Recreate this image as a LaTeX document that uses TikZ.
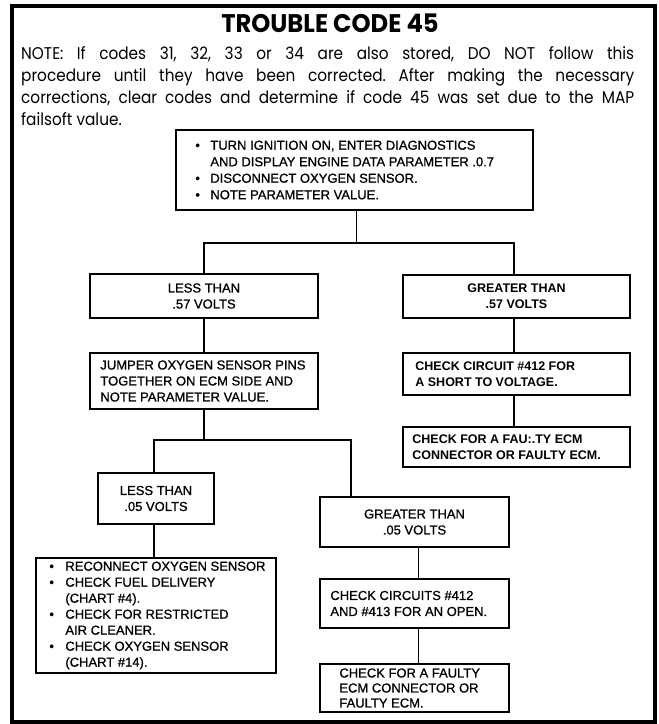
\documentclass[tikz,border=0pt]{standalone}
\usepackage{fontspec}
\setmainfont{Liberation Sans}
\newfontfamily\notefont[FakeStretch=0.9]{Poppins}
\newfontfamily\titlefont[FakeStretch=0.95]{Poppins}
\newfontfamily\boxfont[FakeBold=0.8]{Liberation Sans}
\begin{document}
\frenchspacing
\begin{tikzpicture}[x=1pt,y=-1pt,
  outer/.style={draw, line width=4pt},
  stepbox/.style={draw, line width=1.6pt, inner sep=0pt, fill=white},
  boxtext/.style={inner sep=0pt, font=\boxfont\fontsize{13}{16}\selectfont},
  boldtext/.style={inner sep=0pt, font=\bfseries\fontsize{12.5}{16}\selectfont},
  link/.style={line width=1.5pt}
]
\useasboundingbox (0,0) rectangle (659,724);
\fill[white] (0,0) rectangle (659,724);

% page frame, title and note
\draw[outer] (12,5.5) rectangle (654.5,722);
\node[font=\titlefont\bfseries\fontsize{25.5}{30}\selectfont] (title) at (330,23) {TROUBLE CODE 45};
\node[anchor=north west, text width=613pt, align=justify, inner sep=0pt,
      font=\notefont\fontsize{17}{22}\selectfont] (note) at (21,46.5)
  {NOTE: If codes 31, 32, 33 or 34 are also stored, DO NOT follow this\linebreak
   procedure until they have been corrected. After making the necessary\linebreak
   corrections, clear codes and determine if code 45 was set due to the MAP\linebreak
   failsoft value.};

% boxes
\node[stepbox, minimum width=357pt, minimum height=80pt] (b1) at (354.5,170) {};
\node[stepbox, minimum width=228pt, minimum height=44pt] (lt57) at (204,296) {};
\node[stepbox, minimum width=227pt, minimum height=43pt] (gt57) at (516.5,296.5) {};
\node[stepbox, minimum width=228pt, minimum height=56pt] (jump) at (204,381) {};
\node[stepbox, minimum width=227pt, minimum height=42pt] (c412) at (516.5,374) {};
\node[stepbox, minimum width=227pt, minimum height=40pt] (ecmr) at (516.5,447) {};
\node[stepbox, minimum width=116pt, minimum height=51pt] (lt05) at (156,498.5) {};
\node[stepbox, minimum width=189pt, minimum height=50pt] (gt05) at (414.5,522) {};
\node[stepbox, minimum width=240pt, minimum height=115pt] (recon) at (156,615.5) {};
\node[stepbox, minimum width=189pt, minimum height=49pt] (c413) at (414.5,603.5) {};
\node[stepbox, minimum width=189pt, minimum height=48pt] (ecmb) at (414.5,688) {};

% box texts
\node[boxtext, anchor=west, align=left, font=\boxfont\fontsize{13}{16.5}\selectfont] (t1) at ([xshift=20pt]b1.west)
  {\makebox[15pt][l]{\textbullet}TURN IGNITION ON, ENTER DIAGNOSTICS\\
   \hspace*{15pt}AND DISPLAY ENGINE DATA PARAMETER .0.7\\
   \makebox[15pt][l]{\textbullet}DISCONNECT OXYGEN SENSOR.\\
   \makebox[15pt][l]{\textbullet}NOTE PARAMETER VALUE.};
\node[boxtext, align=center] (t2) at (lt57) {LESS THAN\\.57 VOLTS};
\node[boldtext, align=center] (t3) at (gt57) {GREATER THAN\\.57 VOLTS};
\node[boxtext, anchor=west, align=left] (t4) at ([xshift=11pt]jump.west)
  {JUMPER OXYGEN SENSOR PINS\\TOGETHER ON ECM SIDE AND\\NOTE PARAMETER VALUE.};
\node[boldtext, anchor=west, align=left] (t5) at ([xshift=13pt]c412.west)
  {CHECK CIRCUIT \#412 FOR\\A SHORT TO VOLTAGE.};
\node[boldtext, anchor=west, align=left] (t6) at ([xshift=10pt]ecmr.west)
  {CHECK FOR A FAU:.TY ECM\\CONNECTOR OR FAULTY ECM.};
\node[boxtext, align=center] (t7) at (lt05) {LESS THAN\\.05 VOLTS};
\node[boxtext, align=center] (t8) at (gt05) {GREATER THAN\\.05 VOLTS};
\node[boxtext, anchor=west, align=left] (t9) at ([xshift=14pt]recon.west)
  {\makebox[16pt][l]{\textbullet}RECONNECT OXYGEN SENSOR\\
   \makebox[16pt][l]{\textbullet}CHECK FUEL DELIVERY\\
   \hspace*{16pt}(CHART \#4).\\
   \makebox[16pt][l]{\textbullet}CHECK FOR RESTRICTED\\
   \hspace*{16pt}AIR CLEANER.\\
   \makebox[16pt][l]{\textbullet}CHECK OXYGEN SENSOR\\
   \hspace*{16pt}(CHART \#14).};
\node[boxtext, anchor=west, align=left] (t10) at ([xshift=11pt]c413.west)
  {CHECK CIRCUITS \#412\\AND \#413 FOR AN OPEN.};
\node[boxtext, anchor=west, align=left, font=\boxfont\fontsize{13}{15}\selectfont] (t11) at ([xshift=20pt]ecmb.west)
  {CHECK FOR A FAULTY\\ECM CONNECTOR OR\\FAULTY ECM.};

% connectors
\coordinate (bus1) at (0,243);
\coordinate (bus2) at (0,440);
\draw[link] ([xshift=2pt]b1.south) -- ([xshift=2pt]b1.south |- bus1);
\draw[link] (lt57.north) -- (lt57.north |- bus1) -- ([xshift=-2.5pt]gt57.north |- bus1) -- ([xshift=-2.5pt]gt57.north);
\draw[link] (lt57.south) -- (jump.north);
\draw[link] ([xshift=-2.5pt]gt57.south) -- ([xshift=-2.5pt]c412.north);
\draw[link] ([xshift=-2.5pt]c412.south) -- ([xshift=-2.5pt]ecmr.north);
\draw[link] (jump.south) -- (jump.south |- bus2);
\draw[link] ([xshift=-2pt]lt05.north) -- ([xshift=-2pt]lt05.north |- bus2) -- ([xshift=32pt]gt05.north west |- bus2) -- ([xshift=32pt]gt05.north west);
\draw[link] ([xshift=-2pt]lt05.south) -- ([xshift=-2pt]recon.north);
\draw[link] ([xshift=4pt]gt05.south) -- ([xshift=4pt]c413.north);
\draw[link] ([xshift=4pt]c413.south) -- ([xshift=4pt]ecmb.north);
\end{tikzpicture}
\end{document}
